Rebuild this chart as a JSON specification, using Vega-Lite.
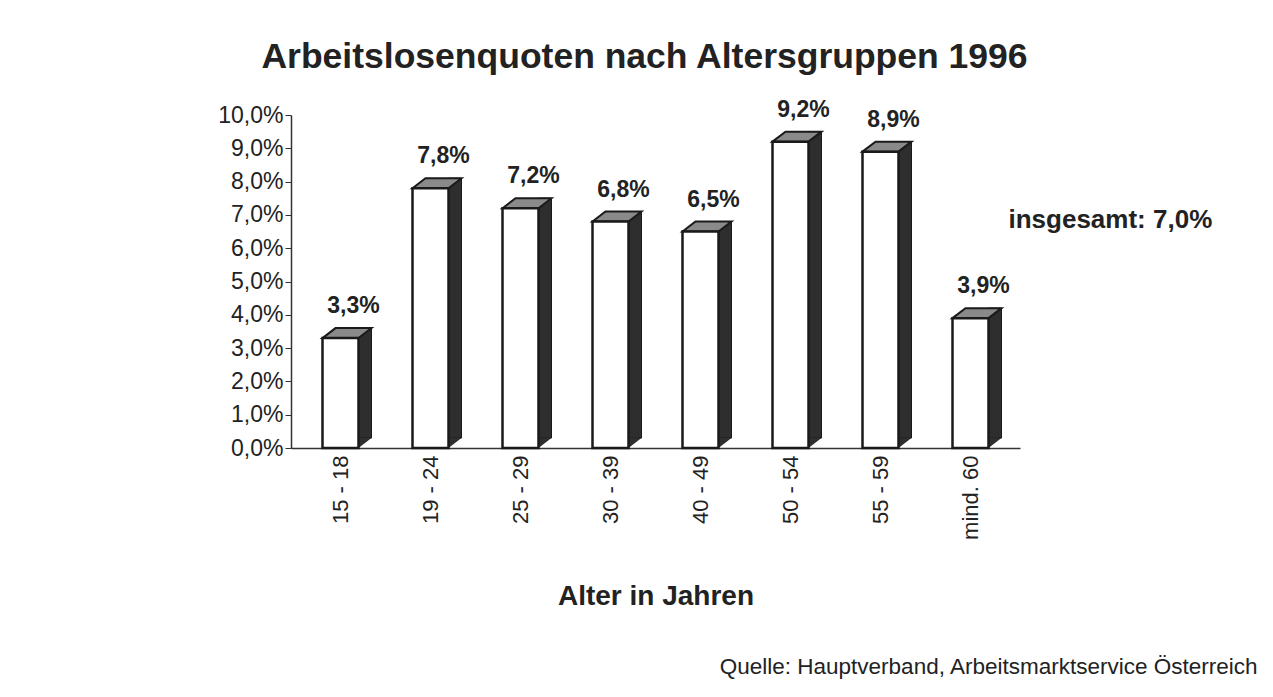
{
  "$schema": "https://vega.github.io/schema/vega-lite/v6.json",
  "width": 729,
  "height": 333,
  "autosize": {"type": "none"},
  "padding": {"left": 291, "top": 115, "right": 253, "bottom": 249},
  "background": "white",
  "config": {
    "locale": {"number": {"decimal": ",", "thousands": ".", "grouping": [3], "currency": ["", " €"]}},
    "font": "Liberation Sans",
    "view": {"stroke": null},
    "axis": {"labelColor": "#222", "titleColor": "#222", "domainColor": "#333", "tickColor": "#333", "domainWidth": 1.5}
  },
  "title": {
    "text": "Arbeitslosenquoten nach Altersgruppen 1996",
    "fontSize": 35.5,
    "fontWeight": "bold",
    "color": "#222",
    "anchor": "middle",
    "frame": "group",
    "dx": -11,
    "offset": 23
  },
  "datasets": {
    "quoten": [
      {"alter": "15 - 18", "quote": 0.033},
      {"alter": "19 - 24", "quote": 0.078},
      {"alter": "25 - 29", "quote": 0.072},
      {"alter": "30 - 39", "quote": 0.068},
      {"alter": "40 - 49", "quote": 0.065},
      {"alter": "50 - 54", "quote": 0.092},
      {"alter": "55 - 59", "quote": 0.089},
      {"alter": "mind. 60", "quote": 0.039}
    ]
  },
  "data": {"name": "quoten"},
  "encoding": {
    "x": {
      "field": "alter",
      "type": "nominal",
      "sort": null,
      "scale": {"paddingInner": 0, "paddingOuter": 0.05},
      "axis": {
        "title": "Alter in Jahren",
        "titleFontSize": 28,
        "titleFontWeight": "bold",
        "titleY": 148,
        "titleBaseline": "middle",
        "ticks": false,
        "labelAngle": -90,
        "labelFontSize": 22,
        "labelPadding": 7
      }
    },
    "y": {
      "field": "quote",
      "type": "quantitative",
      "scale": {"domain": [0, 0.1], "nice": false},
      "axis": {
        "title": null,
        "grid": false,
        "format": ".1%",
        "values": [0, 0.01, 0.02, 0.03, 0.04, 0.05, 0.06, 0.07, 0.08, 0.09, 0.1],
        "labelFontSize": 23,
        "tickSize": 6,
        "labelPadding": 2
      }
    }
  },
  "layer": [
    {
      "mark": {"type": "bar", "width": 13, "xOffset": 24.5, "yOffset": -10, "y2Offset": -10, "fill": "#2e2e2e", "stroke": "#1a1a1a", "strokeWidth": 1}
    },
    {
      "mark": {"type": "point", "shape": "M 18 0 L 18 -10 L 31 -10 Z", "size": 4, "filled": true, "fill": "#2e2e2e", "opacity": 1, "strokeWidth": 0},
      "encoding": {"y": {"datum": 0, "type": "quantitative"}}
    },
    {
      "mark": {"type": "point", "shape": "M -18 0 L -5 -10 L 31 -10 L 18 0 Z", "size": 4, "filled": true, "fill": "#8a8a8a", "stroke": "#1a1a1a", "strokeWidth": 2, "opacity": 1}
    },
    {
      "mark": {"type": "bar", "width": 36, "fill": "white", "stroke": "#1a1a1a", "strokeWidth": 2.5}
    },
    {
      "mark": {"type": "text", "fontSize": 23, "fontWeight": "bold", "color": "#222", "dx": 13, "dy": -32, "baseline": "middle"},
      "encoding": {"text": {"field": "quote", "type": "quantitative", "format": ".1%"}}
    },
    {
      "data": {"values": [{"hinweis": "insgesamt: 7,0%", "wert": 0.07, "alter": "mind. 60"}]},
      "mark": {"type": "text", "fontSize": 26, "fontWeight": "bold", "color": "#222", "align": "left", "baseline": "middle", "dx": 38, "dy": 5},
      "encoding": {
        "x": {"field": "alter", "type": "nominal"},
        "y": {"field": "wert", "type": "quantitative"},
        "text": {"field": "hinweis"}
      }
    },
    {
      "data": {"values": [{"quelle": "Quelle: Hauptverband, Arbeitsmarktservice Österreich", "alter": "mind. 60", "pos": -0.0658}]},
      "mark": {"type": "text", "fontSize": 22.5, "color": "#222", "align": "right", "baseline": "middle", "dx": 287},
      "encoding": {
        "x": {"field": "alter", "type": "nominal"},
        "y": {"field": "pos", "type": "quantitative"},
        "text": {"field": "quelle"}
      }
    }
  ]
}
